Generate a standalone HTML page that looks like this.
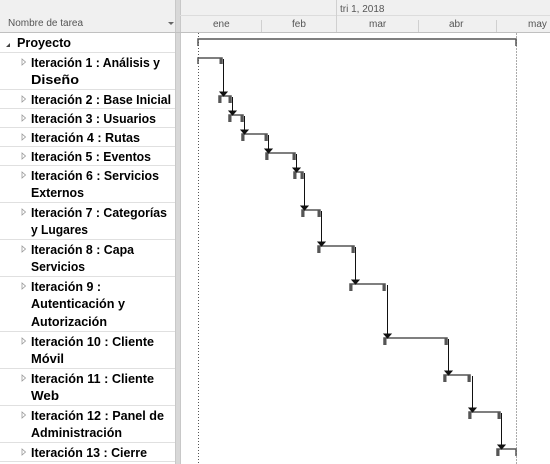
<!DOCTYPE html>
<html><head><meta charset="utf-8"><style>
html,body{margin:0;padding:0;background:#fff;width:550px;height:464px;overflow:hidden}
text{font-family:"Liberation Sans",sans-serif}
.t{font-size:13px;font-weight:bold;fill:#000}
.h{font-size:10px;fill:#555}
</style></head><body>
<svg width="550" height="464" xmlns="http://www.w3.org/2000/svg">
<rect x="0" y="0" width="550" height="32" fill="#f0f0f0"/>
<rect x="176" y="0" width="4" height="464" fill="#d8d8d8"/>
<line x1="175.5" y1="0" x2="175.5" y2="464" stroke="#c8c8c8"/>
<line x1="180.5" y1="0" x2="180.5" y2="464" stroke="#c8c8c8"/>
<line x1="0" y1="32.5" x2="550" y2="32.5" stroke="#c0c0c0"/>
<text x="8" y="26" class="h">Nombre de tarea</text>
<path d="M168 22 l3 3 l3 -3z" fill="#666"/>
<line x1="180" y1="15.5" x2="550" y2="15.5" stroke="#dcdcdc"/>
<line x1="336.5" y1="0" x2="336.5" y2="32" stroke="#d0d0d0"/>
<line x1="261.5" y1="20" x2="261.5" y2="32" stroke="#d0d0d0"/>
<line x1="418.5" y1="20" x2="418.5" y2="32" stroke="#d0d0d0"/>
<line x1="496.5" y1="20" x2="496.5" y2="32" stroke="#d0d0d0"/>
<text x="340" y="12" class="h">tri 1, 2018</text>
<text x="213" y="27" class="h">ene</text>
<text x="292" y="27" class="h">feb</text>
<text x="369" y="27" class="h">mar</text>
<text x="449" y="27" class="h">abr</text>
<text x="528" y="27" class="h">may</text>
<g stroke="#e0e0e0">
<line x1="0" y1="52.5" x2="175" y2="52.5"/><line x1="0" y1="89.5" x2="175" y2="89.5"/>
<line x1="0" y1="108.5" x2="175" y2="108.5"/><line x1="0" y1="127.5" x2="175" y2="127.5"/>
<line x1="0" y1="146.5" x2="175" y2="146.5"/><line x1="0" y1="165.5" x2="175" y2="165.5"/>
<line x1="0" y1="202.5" x2="175" y2="202.5"/><line x1="0" y1="239.5" x2="175" y2="239.5"/>
<line x1="0" y1="276.5" x2="175" y2="276.5"/><line x1="0" y1="331.5" x2="175" y2="331.5"/>
<line x1="0" y1="368.5" x2="175" y2="368.5"/><line x1="0" y1="405.5" x2="175" y2="405.5"/>
<line x1="0" y1="442.5" x2="175" y2="442.5"/><line x1="0" y1="461.5" x2="175" y2="461.5"/>
</g>
<path d="M6 47 l4 -4 v4z" fill="#444"/>
<text x="17" y="47" class="t" textLength="54" lengthAdjust="spacingAndGlyphs">Proyecto</text>
<g fill="none" stroke="#999" stroke-width="0.8">
<path d="M22 59 v6 l3.5 -3z"/><path d="M22 96 v6 l3.5 -3z"/><path d="M22 115 v6 l3.5 -3z"/>
<path d="M22 134 v6 l3.5 -3z"/><path d="M22 153 v6 l3.5 -3z"/><path d="M22 172 v6 l3.5 -3z"/>
<path d="M22 209 v6 l3.5 -3z"/><path d="M22 246 v6 l3.5 -3z"/><path d="M22 283 v6 l3.5 -3z"/>
<path d="M22 338 v6 l3.5 -3z"/><path d="M22 375 v6 l3.5 -3z"/><path d="M22 412 v6 l3.5 -3z"/>
<path d="M22 449 v6 l3.5 -3z"/>
</g>
<text x="31" y="67" class="t" textLength="129" lengthAdjust="spacingAndGlyphs">Iteración 1 : Análisis y</text>
<text x="31" y="84" class="t" textLength="48" lengthAdjust="spacingAndGlyphs">Diseño</text>
<text x="31" y="104" class="t" textLength="140" lengthAdjust="spacingAndGlyphs">Iteración 2 : Base Inicial</text>
<text x="31" y="123" class="t" textLength="125" lengthAdjust="spacingAndGlyphs">Iteración 3 : Usuarios</text>
<text x="31" y="142" class="t" textLength="109" lengthAdjust="spacingAndGlyphs">Iteración 4 : Rutas</text>
<text x="31" y="161" class="t" textLength="120" lengthAdjust="spacingAndGlyphs">Iteración 5 : Eventos</text>
<text x="31" y="180" class="t" textLength="128" lengthAdjust="spacingAndGlyphs">Iteración 6 : Servicios</text>
<text x="31" y="197" class="t" textLength="53" lengthAdjust="spacingAndGlyphs">Externos</text>
<text x="31" y="217" class="t" textLength="136" lengthAdjust="spacingAndGlyphs">Iteración 7 : Categorías</text>
<text x="31" y="234" class="t" textLength="57" lengthAdjust="spacingAndGlyphs">y Lugares</text>
<text x="31" y="254" class="t" textLength="103" lengthAdjust="spacingAndGlyphs">Iteración 8 : Capa</text>
<text x="31" y="271" class="t" textLength="54" lengthAdjust="spacingAndGlyphs">Servicios</text>
<text x="31" y="291" class="t" textLength="70" lengthAdjust="spacingAndGlyphs">Iteración 9 :</text>
<text x="31" y="308" class="t" textLength="94" lengthAdjust="spacingAndGlyphs">Autenticación y</text>
<text x="31" y="326" class="t" textLength="76" lengthAdjust="spacingAndGlyphs">Autorización</text>
<text x="31" y="346" class="t" textLength="123" lengthAdjust="spacingAndGlyphs">Iteración 10 : Cliente</text>
<text x="31" y="363" class="t" textLength="33" lengthAdjust="spacingAndGlyphs">Móvil</text>
<text x="31" y="383" class="t" textLength="123" lengthAdjust="spacingAndGlyphs">Iteración 11 : Cliente</text>
<text x="31" y="400" class="t" textLength="28" lengthAdjust="spacingAndGlyphs">Web</text>
<text x="31" y="420" class="t" textLength="133" lengthAdjust="spacingAndGlyphs">Iteración 12 : Panel de</text>
<text x="31" y="437" class="t" textLength="91" lengthAdjust="spacingAndGlyphs">Administración</text>
<text x="31" y="457" class="t" textLength="116" lengthAdjust="spacingAndGlyphs">Iteración 13 : Cierre</text>
<line x1="198.5" y1="33" x2="198.5" y2="464" stroke="#555" stroke-dasharray="1,2"/>
<line x1="516.5" y1="33" x2="516.5" y2="464" stroke="#aaa" stroke-dasharray="2,1"/>
<g stroke="#555" fill="none" stroke-width="1.5">
<path d="M198 46 v-7 h318 v7"/>
<path d="M198 64 v-6 h24 v6"/>
<path d="M219 103 v-7 h12 v7"/>
<path d="M229 122 v-7 h14 v7"/>
<path d="M242 141 v-7 h25 v7"/>
<path d="M266 160 v-7 h29 v7"/>
<path d="M294 179 v-7 h9 v7"/>
<path d="M302 217 v-7 h18 v7"/>
<path d="M318 253 v-7 h36 v7"/>
<path d="M350 291 v-7 h35 v7"/>
<path d="M384 345 v-7 h63 v7"/>
<path d="M444 382 v-7 h26 v7"/>
<path d="M469 419 v-7 h31 v7"/>
<path d="M497 456 v-7 h19 v7"/>
</g>
<g fill="#555">
<rect x="219" y="96" width="2.5" height="7"/><rect x="229" y="115" width="2.5" height="7"/>
<rect x="242" y="134" width="2.5" height="7"/><rect x="266" y="153" width="2.5" height="7"/>
<rect x="294" y="172" width="2.5" height="7"/><rect x="302" y="210" width="2.5" height="7"/>
<rect x="318" y="246" width="2.5" height="7"/><rect x="350" y="284" width="2.5" height="7"/>
<rect x="384" y="338" width="2.5" height="7"/><rect x="444" y="375" width="2.5" height="7"/>
<rect x="469" y="412" width="2.5" height="7"/><rect x="497" y="449" width="2.5" height="7"/>
<rect x="219.5" y="58" width="2.5" height="6"/><rect x="228.5" y="96" width="2.5" height="7"/>
<rect x="240.5" y="115" width="2.5" height="7"/><rect x="264.5" y="134" width="2.5" height="7"/>
<rect x="292.5" y="153" width="2.5" height="7"/><rect x="300.5" y="172" width="2.5" height="7"/>
<rect x="317.5" y="210" width="2.5" height="7"/><rect x="351.5" y="246" width="2.5" height="7"/>
<rect x="382.5" y="284" width="2.5" height="7"/><rect x="444.5" y="338" width="2.5" height="7"/>
<rect x="467.5" y="375" width="2.5" height="7"/><rect x="497.5" y="412" width="2.5" height="7"/>
</g>
<g stroke="#111" fill="#111">
<line x1="223.5" y1="59" x2="223.5" y2="93"/><path d="M220 92 h7 l-3.5 4z"/>
<line x1="232.5" y1="97" x2="232.5" y2="112"/><path d="M229 111 h7 l-3.5 4z"/>
<line x1="244.5" y1="116" x2="244.5" y2="131"/><path d="M241 130 h7 l-3.5 4z"/>
<line x1="268.5" y1="135" x2="268.5" y2="150"/><path d="M265 149 h7 l-3.5 4z"/>
<line x1="296.5" y1="154" x2="296.5" y2="169"/><path d="M293 168 h7 l-3.5 4z"/>
<line x1="304.5" y1="173" x2="304.5" y2="207"/><path d="M301 206 h7 l-3.5 4z"/>
<line x1="321.5" y1="211" x2="321.5" y2="243"/><path d="M318 242 h7 l-3.5 4z"/>
<line x1="355.5" y1="247" x2="355.5" y2="281"/><path d="M352 280 h7 l-3.5 4z"/>
<line x1="387.5" y1="285" x2="387.5" y2="335"/><path d="M384 334 h7 l-3.5 4z"/>
<line x1="448.5" y1="339" x2="448.5" y2="372"/><path d="M445 371 h7 l-3.5 4z"/>
<line x1="472.5" y1="376" x2="472.5" y2="409"/><path d="M469 408 h7 l-3.5 4z"/>
<line x1="501.5" y1="413" x2="501.5" y2="446"/><path d="M498 445 h7 l-3.5 4z"/>
</g>
</svg>
</body></html>
